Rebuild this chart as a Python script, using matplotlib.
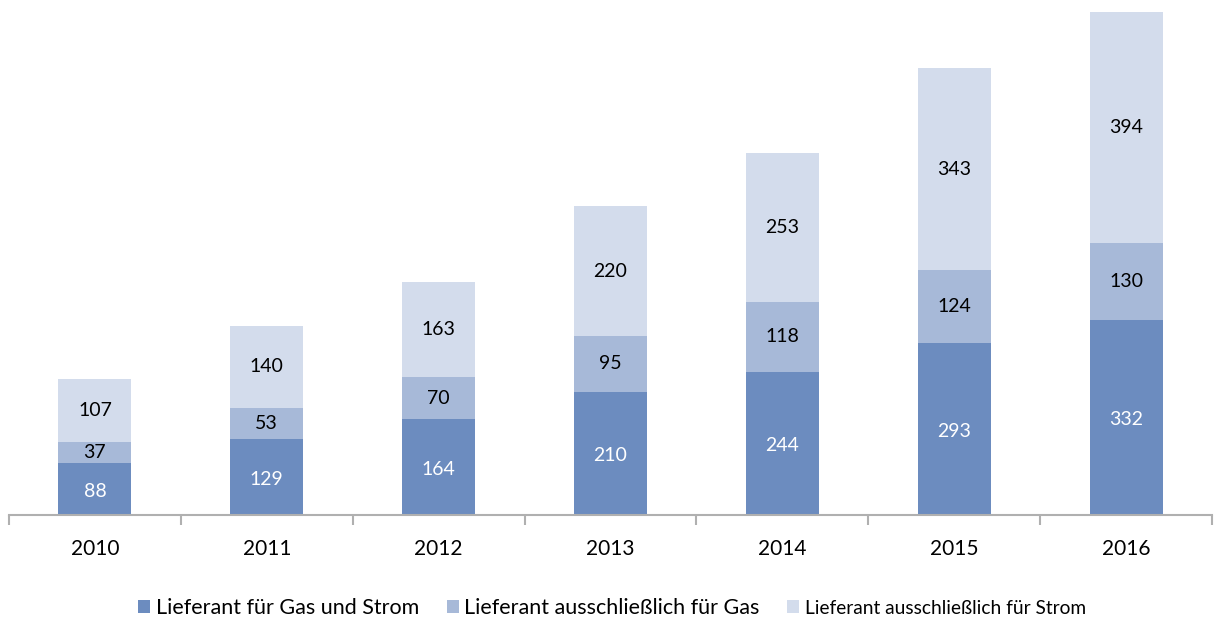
import matplotlib
matplotlib.use("Agg")
import matplotlib.pyplot as plt
import numpy as np

years = ["2010", "2011", "2012", "2013", "2014", "2015", "2016"]
gas_strom = [88, 129, 164, 210, 244, 293, 332]
nur_gas = [37, 53, 70, 95, 118, 124, 130]
nur_strom = [107, 140, 163, 220, 253, 343, 394]
labels = ["Lieferant für Gas und Strom", "Lieferant ausschließlich für Gas",
          "Lieferant ausschließlich für Strom"]
colors = ["#6C8CBF", "#A7B9D8", "#D3DCEC"]

plt.rcParams['font.family'] = ['Lato', 'DejaVu Sans']

fig = plt.figure(figsize=(12.14, 6.21), dpi=100)
W, H = 1214, 621
ax = fig.add_axes([9 / W, 1 - 515 / H, (1212 - 9) / W, 515 / H])

x = np.arange(len(years))
w = 0.425
b1 = ax.bar(x, gas_strom, w, color=colors[0], label=labels[0])
b2 = ax.bar(x, nur_gas, w, bottom=gas_strom, color=colors[1], label=labels[1])
bottom3 = [a + b for a, b in zip(gas_strom, nur_gas)]
b3 = ax.bar(x, nur_strom, w, bottom=bottom3, color=colors[2], label=labels[2])

for i in range(len(years)):
    ax.text(x[i], gas_strom[i] / 2 - 4, str(gas_strom[i]), ha="center", va="center",
            color="white", fontsize=14)
    ax.text(x[i], gas_strom[i] + nur_gas[i] / 2, str(nur_gas[i]), ha="center", va="center",
            color="black", fontsize=14)
    ax.text(x[i], bottom3[i] + nur_strom[i] / 2, str(nur_strom[i]), ha="center", va="center",
            color="black", fontsize=14)

ax.set_xlim(-0.5, 6.5)
ax.set_ylim(0, 876)
ax.set_yticks([])
for s in ["top", "right", "left"]:
    ax.spines[s].set_visible(False)
ax.spines["bottom"].set_color("#B0B0B0")
ax.spines["bottom"].set_linewidth(1.5)

ax.set_xticks(np.arange(-0.5, 7.0, 1.0))
ax.set_xticklabels([])
ax.tick_params(axis="x", length=7, width=1.5, color="#B0B0B0")
ax.set_xticks(x, minor=True)
ax.set_xticklabels(years, minor=True, fontsize=15)
ax.tick_params(axis="x", which="minor", length=0, pad=17)

leg = fig.legend(handles=[b1, b2, b3], labels=labels, loc="center",
                 bbox_to_anchor=(612 / W, 1 - 608 / H), ncol=3, frameon=False,
                 fontsize=15.5, handlelength=0.55, handleheight=0.55, handletextpad=0.25,
                 columnspacing=1.3)
leg.get_texts()[2].set_fontsize(13.8)

fig.savefig("out.png", dpi=100)
